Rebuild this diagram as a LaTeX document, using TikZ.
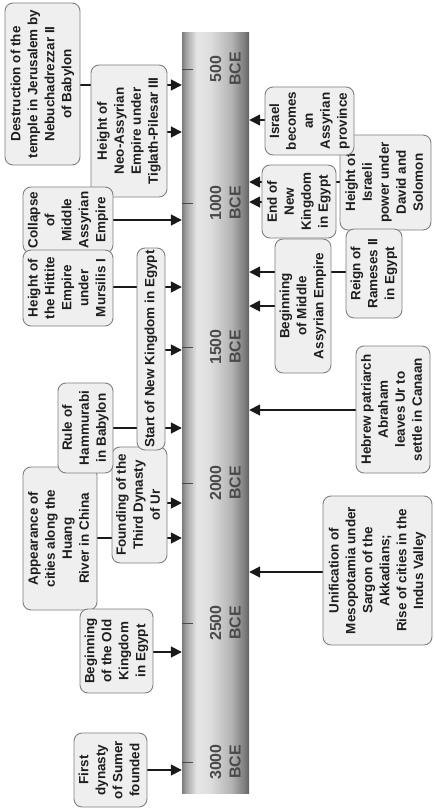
\documentclass[tikz,border=0pt]{standalone}
\usepackage{fontspec}
\usepackage{graphicx}
\setmainfont{Liberation Sans}
\usetikzlibrary{arrows.meta,backgrounds}
\definecolor{boxfill}{HTML}{EFEFEF}
\definecolor{boxline}{HTML}{808080}
\definecolor{txt}{HTML}{1E1E1E}
\definecolor{yr}{HTML}{4A4A4A}
\pgfdeclarehorizontalshading{barshade}{100bp}{color(0bp)=(black!52); color(25bp)=(black!52); color(28bp)=(black!36); color(36bp)=(black!10); color(46bp)=(black!13); color(62bp)=(black!30); color(72bp)=(black!52); color(75bp)=(black!62); color(100bp)=(black!62)}
\newcommand\boxfont{\fontsize{13.5}{17}\selectfont\bfseries}
\newcommand\yearfont{\fontsize{16}{19.5}\selectfont\bfseries}
\newcommand\vt[1]{\rotatebox{90}{\begin{tabular}{@{}c@{}}#1\end{tabular}}}
\tikzset{
  box/.style={draw=boxline, line width=0.9bp, fill=boxfill, rounded corners=8bp, inner sep=0pt, text=txt, font=\boxfont},
  conn/.style={draw=black!90, line width=1.7bp, -{Triangle[length=11bp,width=11bp]}},
  tickmark/.style={draw=yr, line width=0.8bp},
  yearlab/.style={inner sep=0pt, text=yr, font=\yearfont},
  bar/.style={inner sep=0pt, shading=barshade, draw=none, minimum width=67bp, minimum height=760bp}
}
\begin{document}
\begin{tikzpicture}[x=1bp,y=-1bp]
\useasboundingbox (0,0) rectangle (435,810);
% timeline bar
\node[bar] (bar) at (215.5,413) {};
\foreach \yy/\lab in {69/500,203/1000,347/1500,483/2000,623/2500,762/3000}{
  \draw[tickmark] (bar.west |- 0,\yy) -- ++(11,0);
  \node[yearlab] (yl\lab) at (227,\yy) {\vt{\lab\\BCE}};
}
% left boxes
\node[box, minimum width=75bp, minimum height=162bp] (destr) at (42.5,84) {\vt{Destruction of the\\temple in Jerusalem by\\Nebuchadrezzar II\\of Babylon}};
\node[box, minimum width=76bp, minimum height=132bp] (neo) at (129,131) {\vt{Height of\\Neo-Assyrian\\Empire under\\Tiglath-Pilesar III}};
\node[box, minimum width=90bp, minimum height=66bp] (collapse) at (68,220) {\vt{Collapse\\of\\Middle\\Assyrian\\Empire}};
\node[box, minimum width=90bp, minimum height=76bp] (hittite) at (68,288) {\vt{Height of\\the Hittite\\Empire\\under\\Mursilis I}};
\node[box, minimum width=55bp, minimum height=116bp] (found) at (139.5,505) {\vt{Founding of the\\Third Dynasty\\of Ur}};
\node[box, minimum width=28bp, minimum height=202bp] (start) at (151,349) {\vt{Start of New Kingdom in Egypt}};
\node[box, minimum width=74bp, minimum height=143bp] (appear) at (60,538.5) {\vt{Appearance of\\cities along the\\Huang\\River in China}};
\node[box, minimum width=55bp, minimum height=90bp] (hamm) at (85.5,428) {\vt{Rule of\\Hammurabi\\in Babylon}};
\node[box, minimum width=73bp, minimum height=84bp] (oldk) at (116.5,651) {\vt{Beginning\\of the Old\\Kingdom\\in Egypt}};
\node[box, minimum width=73bp, minimum height=74bp] (sumer) at (110.5,770) {\vt{First\\dynasty\\of Sumer\\founded}};
% right boxes
\node[box, minimum width=91bp, minimum height=95bp] (david) at (385.5,182.5) {\vt{Height of\\Israeli\\power under\\David and\\Solomon}};
\node[box, minimum width=89bp, minimum height=68bp] (israel) at (309.5,121) {\vt{Israel\\becomes\\an\\Assyrian\\province}};
\node[box, minimum width=74bp, minimum height=73bp] (endnk) at (299,201.5) {\vt{End of\\New\\Kingdom\\in Egypt}};
\node[box, minimum width=56bp, minimum height=89bp] (rames) at (374,273.5) {\vt{Reign of\\Rameses II\\in Egypt}};
\node[box, minimum width=56bp, minimum height=134bp] (begma) at (303,306) {\vt{Beginning\\of Middle\\Assyrian Empire}};
\node[box, minimum width=74bp, minimum height=127bp] (abraham) at (393,409.5) {\vt{Hebrew patriarch\\Abraham\\leaves Ur to\\settle in Canaan}};
\node[box, minimum width=109bp, minimum height=149bp] (unif) at (377.5,570.5) {\vt{Unification of\\Mesopotamia under\\Sargon of the\\Akkadians;\\Rise of cities in the\\Indus Valley}};
% connectors
\begin{pgfonlayer}{background}
\fill[white] (0,0) rectangle (435,810);
\draw[conn] (destr.east |- 0,85) -- (bar.west |- 0,85);
\draw[conn] (neo.east |- 0,132) -- (bar.west |- 0,132);
\draw[conn] (collapse.east |- 0,220) -- (bar.west |- 0,220);
\draw[conn] (hittite.east |- 0,287) -- (bar.west |- 0,287);
\draw[conn] (start.east |- 0,350) -- (bar.west |- 0,350);
\draw[conn] (hamm.east |- 0,428) -- (bar.west |- 0,428);
\draw[conn] (found.east |- 0,503) -- (bar.west |- 0,503);
\draw[conn] (appear.east |- 0,538) -- (bar.west |- 0,538);
\draw[conn] (oldk.east |- 0,652) -- (bar.west |- 0,652);
\draw[conn] (sumer.east |- 0,770) -- (bar.west |- 0,770);
\draw[conn] (israel.west |- 0,120) -- (bar.east |- 0,120);
\draw[conn] (david.west |- 0,182) -- (bar.east |- 0,182);
\draw[conn] (endnk.west |- 0,202) -- (bar.east |- 0,202);
\draw[conn] (rames.west |- 0,272) -- (bar.east |- 0,272);
\draw[conn] (begma.west |- 0,306) -- (bar.east |- 0,306);
\draw[conn] (abraham.west |- 0,410) -- (bar.east |- 0,410);
\draw[conn] (unif.west |- 0,572) -- (bar.east |- 0,572);
\end{pgfonlayer}
\end{tikzpicture}
\end{document}
